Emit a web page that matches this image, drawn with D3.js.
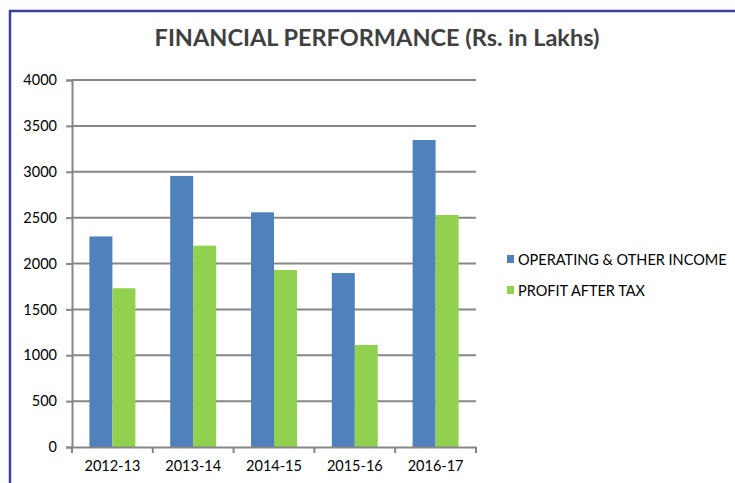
<!DOCTYPE html>
<html><head><meta charset="utf-8">
<script src="https://cdn.jsdelivr.net/npm/d3@7"></script>
<style>body{margin:0;background:#fff}svg{display:block}</style>
</head><body>
<svg id="c" width="735" height="483"></svg>
<script>
const categories = ["2012-13","2013-14","2014-15","2015-16","2016-17"];
const seriesNames = ["OPERATING & OTHER INCOME","PROFIT AFTER TAX"];
const income = [2295, 2954, 2558, 1896, 3346];
const profit = [1730, 2194, 1929, 1112, 2529];
const yTicks = [0,500,1000,1500,2000,2500,3000,3500,4000];
const colors = ["#4f81bd","#92d050"];

const svg = d3.select("#c");
const font = "Lato, 'Open Sans', sans-serif";
svg.append("rect").attr("x",0).attr("y",0).attr("width",735).attr("height",483).attr("fill","#fdfdfd");
svg.append("rect").attr("x",10).attr("y",11).attr("width",760).attr("height",500)
  .attr("fill","#fff").attr("stroke","#3b409a").attr("stroke-width",2.5);

svg.append("text").attr("x",377).attr("y",46).attr("text-anchor","middle")
  .attr("font-family",font).attr("font-weight","bold").attr("font-size",23.5).attr("fill","#404040")
  .text("FINANCIAL PERFORMANCE (Rs. in Lakhs)");

const x0 = d3.scaleBand().domain(categories).range([72,476]).paddingInner(0).paddingOuter(0);
const x1 = d3.scaleBand().domain([0,1]).range([0,x0.bandwidth()]).paddingOuter(0.757).paddingInner(0);
const y = d3.scaleLinear().domain([0,4000]).range([447,80]);

// gridlines
svg.append("g").selectAll("line").data(yTicks.filter(d=>d>0)).join("line")
  .attr("x1",72).attr("x2",476).attr("y1",d=>y(d)).attr("y2",d=>y(d))
  .attr("stroke","#868686").attr("stroke-width",2);

const data = categories.map((c,i)=>({c, v:[income[i],profit[i]]}));
const g = svg.append("g");
g.selectAll("g").data(data).join("g").attr("transform",d=>`translate(${x0(d.c)},0)`)
  .selectAll("rect").data(d=>d.v.map((v,k)=>({v,k}))).join("rect")
  .attr("x",d=>x1(d.k)).attr("width",x1.bandwidth()).attr("y",d=>y(d.v)).attr("height",d=>447-y(d.v))
  .attr("fill",d=>colors[d.k]);

// y axis
const ya = svg.append("g").attr("transform","translate(72,0)")
  .call(d3.axisLeft(y).tickValues(yTicks).tickSize(6).tickPadding(9).tickFormat(d3.format("d")));
ya.select(".domain").attr("stroke","#868686").attr("stroke-width",2);
ya.selectAll(".tick line").attr("stroke","#868686").attr("stroke-width",2);
ya.selectAll("text").attr("font-family",font).attr("font-size",14.5).attr("fill","#000");

// x axis
const xa = svg.append("g").attr("transform","translate(0,447)")
  .call(d3.axisBottom(x0).tickSize(0).tickPadding(14));
xa.select(".domain").attr("stroke","#868686").attr("stroke-width",2);
xa.selectAll("text").attr("font-family",font).attr("font-size",14.5).attr("fill","#000");
xa.append("g").selectAll("line").data(categories.concat(["end"])).join("line")
  .attr("x1",(d,i)=>72+i*x0.bandwidth()).attr("x2",(d,i)=>72+i*x0.bandwidth())
  .attr("y1",0).attr("y2",6).attr("stroke","#868686").attr("stroke-width",2);

// legend
const lg = svg.append("g").selectAll("g").data(seriesNames).join("g")
  .attr("transform",(d,i)=>`translate(507,${260+i*31})`);
lg.append("rect").attr("x",0).attr("y",-5).attr("width",7).attr("height",8).attr("fill",(d,i)=>colors[i]);
lg.append("text").attr("x",11).attr("y",5).attr("font-family",font).attr("font-size",14.5).attr("fill","#000").text(d=>d);
</script>
</body></html>
